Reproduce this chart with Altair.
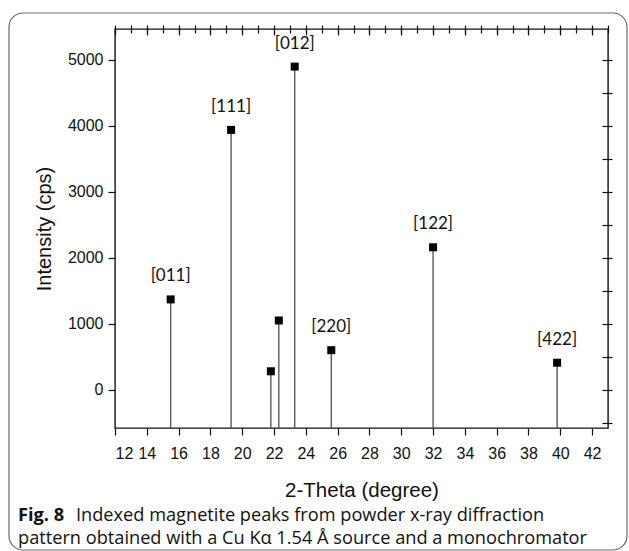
import altair as alt
import pandas as pd

# ---- data ----
two_theta = [15.5, 19.3, 21.8, 22.3, 23.3, 25.6, 32.0, 39.8]
intensity = [1370, 3940, 280, 1050, 4900, 600, 2160, 410]
hkl = ["[011]", "[111]", "", "", "[012]", "[220]", "[122]", "[422]"]

x_domain = [12, 43]
y_domain = [-580, 5470]
x_major = list(range(12, 43, 2))
x_minor = list(range(12, 44))
y_major = list(range(0, 5001, 1000))
y_minor = list(range(-500, 5001, 500))

x_title = "2-Theta (degree)"
y_title = "Intensity (cps)"
caption_bold = "Fig. 8"
caption_line1 = "Indexed magnetite peaks from powder x-ray diffraction"
caption_line2 = "pattern obtained with a Cu Kα 1.54 Å source and a monochromator"

W, H = 493, 399
PAD_L, PAD_T = 115, 29

df = pd.DataFrame({
    "theta": two_theta,
    "intensity": intensity,
    "hkl": hkl,
    "base": [y_domain[0]] * len(two_theta),
})

xs = alt.Scale(domain=x_domain, nice=False, zero=False)
ys = alt.Scale(domain=y_domain, nice=False, zero=False)

AX = dict(domain=False, grid=False, tickColor="#111", tickWidth=1.2,
          labelFont="Liberation Sans", labelColor="#111")

base = alt.Chart(df)

stems = base.mark_rule(color="#5a5a5a", strokeWidth=1.4).encode(
    x=alt.X("theta:Q", scale=xs, axis=alt.Axis(
        values=x_major, tickSize=7, labelFontSize=16, labelPadding=10,
        title=x_title, titleFont="Liberation Sans", titleFontSize=20.5,
        titleFontWeight="normal", titleColor="#111", titlePadding=19, **AX)),
    y=alt.Y("intensity:Q", scale=ys, axis=alt.Axis(
        values=y_major, format="d", tickSize=7, labelFontSize=16, labelPadding=5,
        title=y_title, titleFont="Liberation Sans", titleFontSize=20,
        titleFontWeight="normal", titleColor="#111", titlePadding=13, **AX)),
    y2="base:Q",
)

squares = base.mark_point(shape="square", filled=True, color="#000",
                          size=64, opacity=1).encode(
    x=alt.X("theta:Q", scale=xs, axis=alt.Axis(
        values=x_minor, tickSize=4, labels=False, title=None, **AX)),
    y=alt.Y("intensity:Q", scale=ys, axis=alt.Axis(
        values=y_minor, tickSize=4, labels=False, title=None, **AX)),
)

labels = base.mark_text(dy=-23, font="Lato", fontSize=17, color="#111").encode(
    x=alt.X("theta:Q", scale=xs, axis=alt.Axis(
        orient="bottom", offset=-H, values=x_major, tickSize=6,
        labels=False, title=None, **AX)),
    y=alt.Y("intensity:Q", scale=ys, axis=alt.Axis(
        orient="left", offset=-W, values=y_minor, tickSize=6,
        labels=False, title=None, **AX)),
    text="hkl:N",
)

topminor = base.mark_point(opacity=0).encode(
    x=alt.X("theta:Q", scale=xs, axis=alt.Axis(
        orient="bottom", offset=-H, values=x_minor, tickSize=4,
        labels=False, title=None, **AX)),
    y=alt.Y("intensity:Q", scale=ys, axis=None),
)

frame = alt.Chart(pd.DataFrame({"k": [0]})).mark_rect(
    fill=None, stroke="#6a6a6a", strokeWidth=1.2, cornerRadius=14
).encode(
    x=alt.value(9 - PAD_L), x2=alt.value(627 - PAD_L),
    y=alt.value(13 - PAD_T), y2=alt.value(550 - PAD_T),
)

cap_df = pd.DataFrame({"k": [0]})
CAP = dict(font="Open Sans", fontSize=18.2, align="left",
           baseline="alphabetic", color="#111")
cap_bold = alt.Chart(cap_df).mark_text(
    text=caption_bold, fontWeight="bold", **CAP
).encode(x=alt.value(18 - PAD_L), y=alt.value(521 - PAD_T))
cap_l1 = alt.Chart(cap_df).mark_text(text=caption_line1, **CAP).encode(
    x=alt.value(76 - PAD_L), y=alt.value(521 - PAD_T))
cap_l2 = alt.Chart(cap_df).mark_text(text=caption_line2, **CAP).encode(
    x=alt.value(18 - PAD_L), y=alt.value(544 - PAD_T))

chart = alt.layer(
    stems, squares, labels, topminor, frame, cap_bold, cap_l1, cap_l2
).resolve_axis(x="independent", y="independent").properties(
    width=W, height=H,
    autosize=alt.AutoSizeParams(type="none"),
    padding={"left": PAD_L, "top": PAD_T, "right": 629 - PAD_L - W,
             "bottom": 551 - PAD_T - H},
    background="white",
).configure_view(stroke="#111", strokeWidth=1.4)

chart.save("out.html", embed_options={"renderer": "svg", "actions": False})
